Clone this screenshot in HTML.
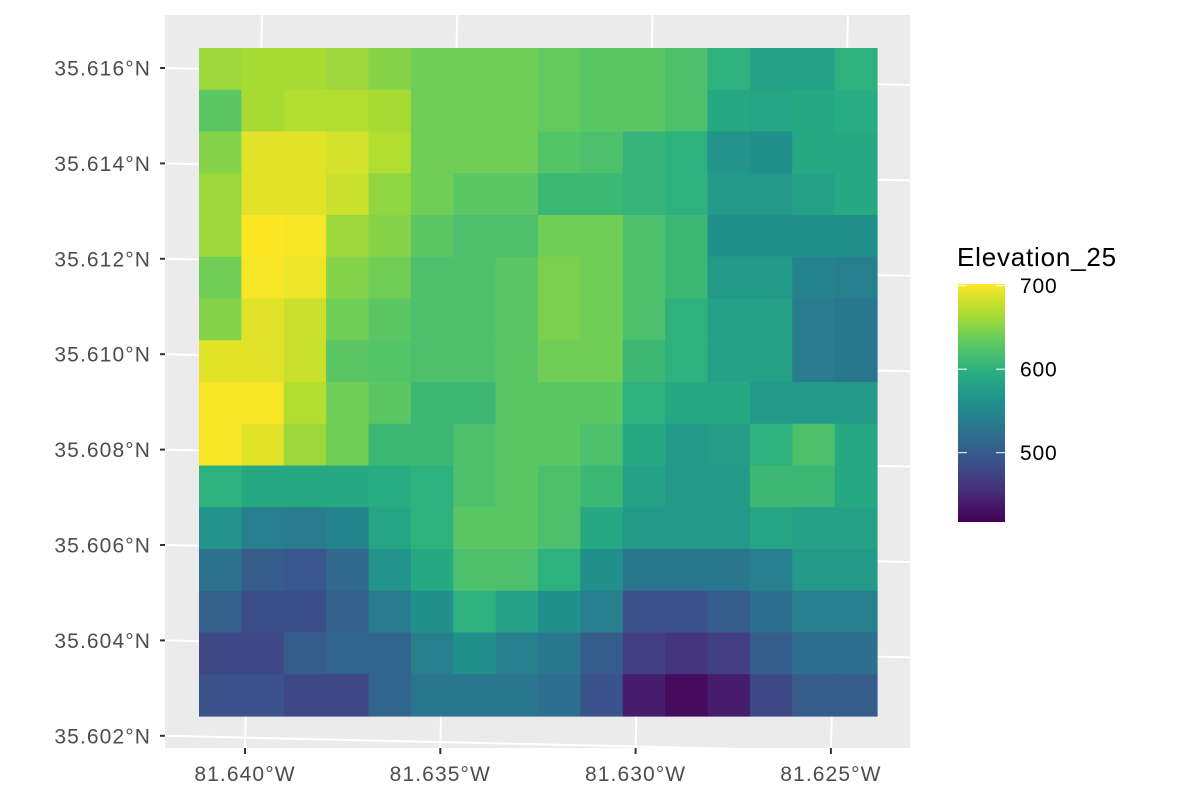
<!DOCTYPE html>
<html><head><meta charset="utf-8"><style>
body{margin:0;background:#fff;}
svg text{font-family:"Liberation Sans",Arial,sans-serif;}
</style></head><body>
<svg id="chart" width="1200" height="800" xmlns="http://www.w3.org/2000/svg">
<defs><clipPath id="pc"><rect x="165" y="15" width="745" height="733"/></clipPath>
<linearGradient id="lg" x1="0" y1="1" x2="0" y2="0">
<stop offset="0" stop-color="#440154"/><stop offset="0.125" stop-color="#472c7a"/><stop offset="0.25" stop-color="#3b518b"/><stop offset="0.375" stop-color="#2c718e"/><stop offset="0.5" stop-color="#21908d"/><stop offset="0.625" stop-color="#27ad81"/><stop offset="0.75" stop-color="#5cc863"/><stop offset="0.875" stop-color="#aadc32"/><stop offset="1" stop-color="#fde725"/>
</linearGradient></defs>
<rect x="165" y="15" width="745" height="733" fill="#ebebeb"/>
<g id="grid" clip-path="url(#pc)"></g>
<g id="raster"></g>
<g id="axes"></g>
<g>
<text x="957" y="266" font-size="26" letter-spacing="0.8" fill="#000">Elevation_25</text>
<rect x="958" y="284" width="47" height="238" fill="url(#lg)"/>
<g id="legticks"></g>
</g>
</svg>
<script>
const vmin=417, vmax=702;
const yTickLabels=["35.616°N","35.614°N","35.612°N","35.610°N","35.608°N","35.606°N","35.604°N","35.602°N"];
const xTickLabels=["81.640°W","81.635°W","81.630°W","81.625°W"];
const legendValues=[700,600,500];
const elev=[
[660,665,665,660,650,640,640,640,635,630,630,620,600,580,580,600],
[630,665,670,670,665,640,640,640,635,630,630,620,590,585,590,595],
[650,690,690,685,670,640,640,640,625,620,605,600,565,560,590,590],
[660,690,690,680,655,640,630,630,610,610,605,600,570,570,580,590],
[660,705,700,660,650,630,620,620,640,640,620,610,560,560,560,560],
[640,700,695,650,640,620,620,630,645,640,620,610,570,570,545,540],
[650,690,680,640,630,620,620,630,645,640,620,600,580,580,535,530],
[690,690,680,630,625,620,620,630,640,640,610,600,580,580,535,530],
[700,700,670,640,630,610,610,630,630,630,600,590,590,570,570,570],
[700,690,660,640,610,610,620,630,630,620,590,570,575,600,620,590],
[600,590,590,590,595,600,620,630,620,610,580,570,570,610,610,590],
[565,540,535,545,585,600,630,630,620,590,570,570,570,585,580,580],
[525,500,495,515,565,590,620,620,600,560,530,530,530,540,570,570],
[505,485,485,505,535,560,600,580,560,540,490,490,500,520,540,540],
[480,480,500,510,510,540,560,540,530,500,470,460,470,500,520,520],
[490,490,480,480,510,530,530,530,520,490,440,425,440,480,500,500]
];
const NS="http://www.w3.org/2000/svg";
const stops=["#440154","#472c7a","#3b518b","#2c718e","#21908d","#27ad81","#5cc863","#aadc32","#fde725"];
function hx(c){return [1,3,5].map(i=>parseInt(c.substr(i,2),16));}
function color(v){let t=Math.max(0,Math.min(1,(v-vmin)/(vmax-vmin)))*(stops.length-1);let i=Math.min(Math.floor(t),stops.length-2),f=t-i;const a=hx(stops[i]),b=hx(stops[i+1]);return "rgb("+a.map((x,k)=>Math.round(x+(b[k]-x)*f)).join(",")+")";}
function mk(tag,at,p){const e=document.createElementNS(NS,tag);for(const k in at)e.setAttribute(k,at[k]);p.appendChild(e);return e;}
const rx0=199,rx1=877,ry0=48,ry1=716;
const nr=elev.length,nc=elev[0].length;
const cw=(rx1-rx0)/nc,ch=(ry1-ry0)/nr;
const rg=document.getElementById('raster');
elev.forEach((row,r)=>row.forEach((v,c)=>{
 const e=mk('rect',{x:rx0+c*cw,y:ry0+r*ch,width:cw+0.6,height:ch+0.6,fill:color(v)},rg);
 
 
}));
const yPos=i=>68+i*95.4, xPos=i=>245+i*195.3;
const ax=document.getElementById('axes'), gr=document.getElementById('grid');
yTickLabels.forEach((l,i)=>{
 const y=yPos(i);
 const g=mk('line',{x1:165,y1:y,x2:910,y2:y+17,stroke:'#fff','stroke-width':2},gr);
 
 
 mk('line',{x1:160,y1:y,x2:165,y2:y,stroke:'#333','stroke-width':2},ax);
 const t=mk('text',{x:151,y:y+7.5,'text-anchor':'end','font-size':21,'letter-spacing':1.1,fill:'#4d4d4d'},ax);t.textContent=l;
 
 
});
xTickLabels.forEach((l,i)=>{
 const x=xPos(i);
 const g=mk('line',{x1:x,y1:748,x2:x+17,y2:15,stroke:'#fff','stroke-width':2},gr);
 
 
 mk('line',{x1:x,y1:748,x2:x,y2:754,stroke:'#333','stroke-width':2},ax);
 const t=mk('text',{x:x,y:781,'text-anchor':'middle','font-size':21,'letter-spacing':1.1,fill:'#4d4d4d'},ax);t.textContent=l;
 
 
});
const lt=document.getElementById('legticks');
legendValues.forEach(v=>{
 const y=522-(v-vmin)/(vmax-vmin)*238;
 mk('line',{x1:958,y1:y,x2:967,y2:y,stroke:'#fff','stroke-width':1},lt);
 mk('line',{x1:996,y1:y,x2:1005,y2:y,stroke:'#fff','stroke-width':1},lt);
 const t=mk('text',{x:1020,y:y+7.5,'font-size':21,'letter-spacing':0.8,fill:'#000'},lt);t.textContent=v;
 
 
});
</script>
</body></html>
